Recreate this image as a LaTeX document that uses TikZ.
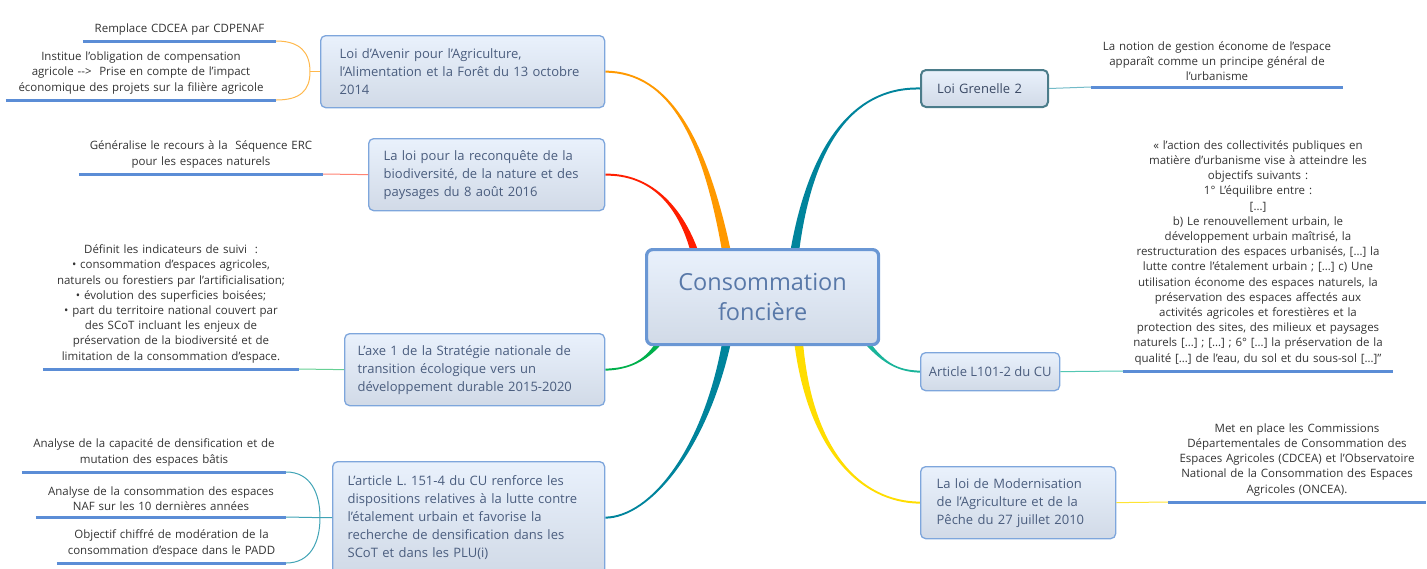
\documentclass[tikz,border=0pt]{standalone}
\usepackage{fontspec}
\setmainfont{Open Sans}
\usetikzlibrary{calc,backgrounds}
\definecolor{boxtop}{HTML}{E9F1FC}
\definecolor{boxbot}{HTML}{D1DAE7}
\definecolor{boxline}{HTML}{7EA6DC}
\definecolor{boxtext}{HTML}{4A5D7E}
\definecolor{hubline}{HTML}{6A97D4}
\definecolor{hubtext}{HTML}{5878A8}
\definecolor{grenline}{HTML}{4B7C8A}
\definecolor{leaftext}{HTML}{333333}
\definecolor{ulblue}{HTML}{5B8DD6}
\definecolor{orangebr}{HTML}{FF9900}
\definecolor{redbr}{HTML}{FF1E00}
\definecolor{greenbr}{HTML}{00B04C}
\definecolor{tealbr}{HTML}{00849C}
\definecolor{yellowbr}{HTML}{FFDD00}
\definecolor{aquabr}{HTML}{1AB49A}
\tikzset{
    law/.style={draw=boxline, line width=1.3pt, rounded corners=5pt,
                top color=boxtop, bottom color=boxbot, text=boxtext,
                align=left, anchor=north west, inner ysep=0pt,
                font=\fontsize{13}{18}\selectfont},
    hubbox/.style={law, draw=hubline, line width=3.2pt, rounded corners=6pt,
                   align=center, text=hubtext,
                   font=\fontsize{23.5}{30}\selectfont},
    leaf/.style={text=leaftext, align=center, anchor=south,
                 inner xsep=0pt, inner ysep=6pt,
                 font=\fontsize{11.5}{15.2}\selectfont},
    uline/.style={draw=ulblue, line width=3pt},
    twig/.style={line width=1pt},
}
% thick tapering branch: colour, from, control 1, control 2, to, end offset, start half-width
\newcommand{\branch}[7]{
    \fill[#1] ($(#2)+(-#7,0)$) .. controls ($(#3)+(-0.5*#7,0)$) and ($(#4)+(0,#6)$) .. ($(#5)+(0,#6)$)
        -- ($(#5)+(0,-1*#6)$) .. controls ($(#4)+(0,-1*#6)$) and ($(#3)+(0.5*#7,0)$) .. ($(#2)+(#7,0)$) -- cycle;
}

\begin{document}
\begin{tikzpicture}[x=1pt,y=-1pt]
    \useasboundingbox (0,0) rectangle (1427,568);
    \clip (0,0) rectangle (1427,568);

    % central topic
    \node[hubbox, minimum width=232pt, minimum height=95pt] (hub) at (645,248) {Consommation\\foncière};

    % laws, left side
    \node[law, minimum width=284pt, minimum height=72pt, inner xsep=19pt, text width=246pt] (avenir) at (320,35)
        {Loi d’Avenir pour l’Agriculture,\\l’Alimentation et la Forêt du 13 octobre\\2014};
    \node[law, minimum width=236pt, minimum height=72pt, inner xsep=15pt, text width=206pt] (biodiv) at (368,138)
        {La loi pour la reconquête de la\\biodiversité, de la nature et des\\paysages du 8 août 2016};
    \node[law, minimum width=260pt, minimum height=72pt, inner xsep=13pt, text width=234pt] (axe) at (344,333)
        {L’axe 1 de la Stratégie nationale de\\transition écologique vers un\\développement durable 2015-2020};
    \node[law, minimum width=272pt, minimum height=112pt, inner xsep=15pt, text width=242pt] (article) at (332,461)
        {L'article L. 151-4 du CU renforce les\\dispositions relatives à la lutte contre\\l’étalement urbain et favorise la\\recherche de densification dans les\\SCoT et dans les PLU(i)};

    % laws, right side
    \node[law, draw=grenline, line width=2pt, text=boxtext!80!black, minimum width=127pt, minimum height=37pt,
          inner xsep=16pt, text width=95pt] (grenelle) at (920,69) {Loi Grenelle 2};
    \node[law, minimum width=139pt, minimum height=38pt, inner xsep=5pt, align=center] (artcu) at (920,352)
        {Article L101-2 du CU};
    \node[law, minimum width=195pt, minimum height=72pt, inner xsep=16pt, text width=163pt] (modern) at (920,466)
        {La loi de Modernisation\\de l’Agriculture et de la\\Pêche du 27 juillet 2010};

    % where the branches leave the central topic
    \coordinate (hub-or) at ($(hub.north)+(-36,4)$);
    \coordinate (hub-re) at ($(hub.north)+(-68,4)$);
    \coordinate (hub-te) at ($(hub.north)+(32,4)$);
    \coordinate (hub-gr) at ($(hub.south)+(-103,-4)$);
    \coordinate (hub-tb) at ($(hub.south)+(-36,-4)$);
    \coordinate (hub-ye) at ($(hub.south)+(36,-4)$);
    \coordinate (hub-aq) at ($(hub.south)+(104,-4)$);

    \begin{pgfonlayer}{background}
        \branch{orangebr}{hub-or}{705,140}{670,72}{avenir.east}{1}{4.4}
        \branch{redbr}{hub-re}{680,205}{650,174}{biodiv.east}{1}{4}
        \branch{tealbr}{hub-te}{810,150}{850,87}{grenelle.west}{-1}{4.4}
        \branch{greenbr}{hub-gr}{645,362}{628,369}{axe.east}{-1}{3.4}
        \branch{tealbr}{hub-tb}{705,450}{650,517}{article.east}{-1}{4.4}
        \branch{yellowbr}{hub-ye}{810,450}{860,502}{modern.west}{1}{4.4}
        \branch{aquabr}{hub-aq}{885,365}{900,371}{artcu.west}{1}{3}
    \end{pgfonlayer}

    % details, left side
    \node[leaf, text width=193pt] (remplace) at (179.5,41) {Remplace CDCEA par CDPENAF};
    \node[leaf, text width=270pt] (institue) at (141,100)
        {Institue l’obligation de compensation\\agricole -{}->\ \ Prise en compte de l’impact\\économique des projets sur la filière agricole};
    \node[leaf, text width=244pt] (generalise) at (201,174)
        {Généralise le recours à la\ \ Séquence ERC\\pour les espaces naturels};
    \node[leaf, text width=256pt] (definit) at (171,369)
        {Définit les indicateurs de suivi\ \ :\\
         • consommation d’espaces agricoles,\\naturels ou forestiers par l’artificialisation;\\
         • évolution des superficies boisées;\\
         • part du territoire national couvert par\\des SCoT incluant les enjeux de\\
         préservation de la biodiversité et de\\limitation de la consommation d’espace.};
    \node[leaf, text width=264pt] (capacite) at (154,472)
        {Analyse de la capacité de densification et de\\mutation des espaces bâtis};
    \node[leaf, text width=250pt] (naf) at (161,517)
        {Analyse de la consommation des espaces\\NAF sur les 10 dernières années};
    \node[leaf, text width=229pt] (objectif) at (171.5,563)
        {Objectif chiffré de modération de la\\consommation d’espace dans le PADD};

    % details, right side
    \node[leaf, text width=252pt] (notion) at (1217,87)
        {La notion de gestion économe de l’espace\\apparaît comme un principe général de\\l’urbanisme};
    \node[leaf, text width=270pt] (quote) at (1258,371)
        {« l'action des collectivités publiques en\\matière d'urbanisme vise à atteindre les\\objectifs suivants :\\
         1° L'équilibre entre :\\{}[…]\\b) Le renouvellement urbain, le\\développement urbain maîtrisé, la\\
         restructuration des espaces urbanisés, […] la\\lutte contre l'étalement urbain ; […] c) Une\\
         utilisation économe des espaces naturels, la\\préservation des espaces affectés aux\\
         activités agricoles et forestières et la\\protection des sites, des milieux et paysages\\
         naturels […] ; […] ; 6° […] la préservation de la\\qualité […] de l'eau, du sol et du sous-sol […]"};
    \node[leaf, text width=258pt] (metplace) at (1297,502)
        {Met en place les Commissions\\Départementales de Consommation des\\Espaces Agricoles (CDCEA) et l’Observatoire\\
         National de la Consommation des Espaces\\Agricoles (ONCEA).};

    % underlines
    \foreach \d in {remplace,institue,generalise,definit,capacite,naf,objectif,notion,quote,metplace}
        \draw[uline] (\d.south west) -- (\d.south east);

    % twigs from laws to details
    \coordinate (fork-av) at ($(avenir.west)+(-10,0)$);
    \draw[twig, orangebr!70] (avenir.west) -- (fork-av);
    \draw[twig, orangebr!70] (remplace.south east) .. controls +(24,0) and +(0,-19) .. (fork-av)
        .. controls +(0,19) and +(24,0) .. (institue.south east);
    \draw[twig, redbr!55] (biodiv.west) -- (generalise.south east);
    \draw[twig, greenbr!60] (axe.west) -- (definit.south east);
    \coordinate (fork-ar) at ($(article.west)+(-12,0)$);
    \draw[twig, tealbr!75] (article.west) -- (fork-ar) -- (naf.south east);
    \draw[twig, tealbr!75] (capacite.south east) .. controls +(24,0) and +(0,-25) .. (fork-ar)
        .. controls +(0,25) and +(24,0) .. (objectif.south east);
    \draw[twig, tealbr!55] (grenelle.east) -- (notion.south west);
    \draw[twig, aquabr!75] (artcu.east) -- (quote.south west);
    \draw[twig, yellowbr!80] (modern.east) -- (metplace.south west);
\end{tikzpicture}
\end{document}
